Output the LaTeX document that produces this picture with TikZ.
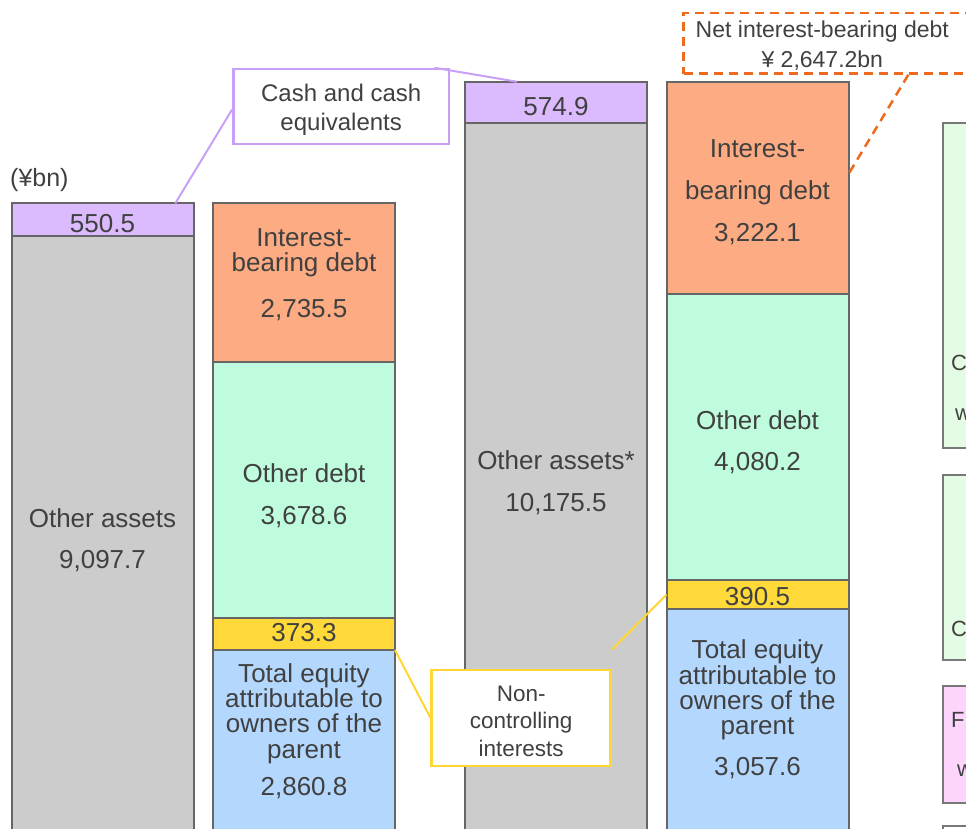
\documentclass[tikz,border=0pt]{standalone}
\usepackage{fontspec}
\setmainfont{Liberation Sans}
\usetikzlibrary{calc}

\begin{document}
\begin{tikzpicture}[x=1pt,y=1pt,yscale=-1,xscale=1,
    seg/.style={draw={rgb, 255:red, 102; green, 102; blue, 102 }, line width=2pt, minimum width=182pt, inner sep=0pt, outer sep=0pt, anchor=north west},
    cashseg/.style={fill={rgb, 255:red, 219; green, 186; blue, 253 }},
    assetseg/.style={fill={rgb, 255:red, 204; green, 204; blue, 204 }},
    debtseg/.style={fill={rgb, 255:red, 252; green, 171; blue, 130 }},
    othdebtseg/.style={fill={rgb, 255:red, 190; green, 252; blue, 221 }},
    nciseg/.style={fill={rgb, 255:red, 255; green, 217; blue, 58 }},
    equityseg/.style={fill={rgb, 255:red, 180; green, 215; blue, 254 }},
    bartext/.style={text={rgb, 255:red, 64; green, 64; blue, 64 }, font={\fontsize{26}{25.4}\selectfont}, align=center, inner sep=0pt, anchor=north},
    numtext/.style={text={rgb, 255:red, 64; green, 64; blue, 64 }, font={\fontsize{26}{25.4}\selectfont}, inner sep=0pt, anchor=base},
    callbox/.style={fill=white, line width=2.5pt, inner sep=0pt},
    calltext/.style={text={rgb, 255:red, 64; green, 64; blue, 64 }, align=center, inner sep=0pt, anchor=north},
    cashline/.style={draw={rgb, 255:red, 200; green, 160; blue, 248 }, line width=2pt},
    nciline/.style={draw={rgb, 255:red, 255; green, 214; blue, 51 }, line width=2pt},
    netline/.style={draw={rgb, 255:red, 238; green, 106; blue, 30 }, line width=2.5pt, dash pattern=on 9pt off 6pt},
    sidebox/.style={draw={rgb, 255:red, 120; green, 120; blue, 120 }, line width=1.5pt},
    sidetext/.style={text={rgb, 255:red, 64; green, 64; blue, 64 }, font={\fontsize{22}{26}\selectfont}, inner sep=0pt, anchor=base west}
  ]
  \clip (0,0) rectangle (966,829);

  %Shape: Rectangle -- assets, earlier year
  \node[seg, cashseg, minimum height=32.4pt] (cash1) at (11.5,203.3) {};
  \node[seg, assetseg, minimum height=620pt] (asset1) at (11.5,235.7) {};
  %Shape: Rectangle -- liabilities and equity, earlier year
  \node[seg, debtseg, minimum height=158.7pt] (debt2) at (213,203.3) {};
  \node[seg, othdebtseg, minimum height=256.3pt] (oth2) at (213,362) {};
  \node[seg, nciseg, minimum height=31.7pt] (nci2) at (213,618.3) {};
  \node[seg, equityseg, minimum height=220pt] (eq2) at (213,650) {};
  %Shape: Rectangle -- assets, later year
  \node[seg, cashseg, minimum height=41.6pt] (cash3) at (465,81.7) {};
  \node[seg, assetseg, minimum height=740pt] (asset3) at (465,123.3) {};
  %Shape: Rectangle -- liabilities and equity, later year
  \node[seg, debtseg, minimum height=212.3pt] (debt4) at (666.5,81.7) {};
  \node[seg, othdebtseg, minimum height=286pt] (oth4) at (666.5,294) {};
  \node[seg, nciseg, minimum height=29.3pt] (nci4) at (666.5,580) {};
  \node[seg, equityseg, minimum height=260pt] (eq4) at (666.5,609.3) {};

  %Shape: Rectangle -- boxes cut off at the right
  \draw[sidebox, fill={rgb, 255:red, 228; green, 252; blue, 228 }] (943,123) rectangle (1000,448);
  \draw[sidebox, fill={rgb, 255:red, 228; green, 252; blue, 228 }] (943,475) rectangle (1000,660);
  \draw[sidebox, fill={rgb, 255:red, 252; green, 212; blue, 252 }] (943,686) rectangle (1000,803);
  \draw[sidebox, fill=white] (943,826) rectangle (1000,900);

  % Text Node
  \node[numtext] (v-cash1) at (102.5,232.7) {550.5};
  \node[bartext] (t-asset1) at (102.5,508.3) {Other assets\\[15.6pt]9,097.7};
  % Text Node
  \node[bartext] (t-debt2) at (304,228.1) {Interest-\\bearing debt\\[20.2pt]2,735.5};
  \node[bartext] (t-oth2) at (304,463.1) {Other debt\\[16.6pt]3,678.6};
  \node[numtext] (v-nci2) at (304,641.7) {373.3};
  \node[bartext] (t-eq2) at (304,663.1) {Total equity\\attributable to\\owners of the\\parent\\[11.9pt]2,860.8};
  % Text Node
  \node[numtext] (v-cash3) at (556,115.7) {574.9};
  \node[bartext] (t-asset3) at (556,450.8) {Other assets*\\[16.3pt]10,175.5};
  % Text Node
  \node[bartext] (t-debt4) at (757.5,139.7) {Interest-\\[16.3pt]bearing debt\\[16.3pt]3,222.1};
  \node[bartext] (t-oth4) at (757.5,410.8) {Other debt\\[15.3pt]4,080.2};
  \node[numtext] (v-nci4) at (757.5,605) {390.5};
  \node[bartext] (t-eq4) at (757.5,639.7) {Total equity\\attributable to\\owners of the\\parent\\[15.6pt]3,057.6};

  % Text Node
  \node[sidetext] (s1) at (951,370) {C};
  \node[sidetext] (s2) at (955,420) {w};
  \node[sidetext] (s3) at (951,636) {C};
  \node[sidetext] (s4) at (951,727) {F};
  \node[sidetext] (s5) at (957,776) {w};

  % Text Node
  \node[text={rgb, 255:red, 64; green, 64; blue, 64 }, font={\fontsize{25}{28}\selectfont}, inner sep=0pt, anchor=base west] (unit) at (10,186) {(¥bn)};

  %Callouts
  \node[callbox, draw={rgb, 255:red, 200; green, 160; blue, 248 }, minimum width=215.7pt, minimum height=75pt] (cashbox) at (341.2,106.5) {};
  \node[calltext, font={\fontsize{24}{28.3}\selectfont}] (cashtext) at (341.2,84.3) {Cash and cash\\equivalents};
  \node[callbox, draw={rgb, 255:red, 255; green, 214; blue, 51 }, minimum width=179pt, minimum height=95.7pt] (ncibox) at (521.2,717.9) {};
  \node[calltext, font={\fontsize{22.5}{27.5}\selectfont}] (ncitext) at (521.2,685.6) {Non-\\controlling\\interests};
  \node[netline, fill=white, minimum width=340pt, minimum height=60.6pt, inner sep=0pt, anchor=north west] (netbox) at (682.3,11.7) {};
  \node[calltext, font={\fontsize{23}{30}\selectfont}] (nettext) at (822.3,21) {Net interest-bearing debt\\¥ 2,647.2bn};

  %Straight Lines
  \draw[cashline] ($(cash1.north west)!0.9!(cash1.north east)$) -- ([yshift=3pt]cashbox.west);
  \draw[cashline] ($(cashbox.north west)!0.927!(cashbox.north east)$) -- ($(cash3.north west)!0.285!(cash3.north east)$);
  %Straight Lines
  \draw[nciline] (nci2.south east) -- (ncibox.west);
  \draw[nciline] ([yshift=-19.3pt]ncibox.north east) -- (nci4.west);
  %Straight Lines
  \draw[netline] ($(netbox.south west)+(226,0)$) -- ($(debt4.north east)!0.435!(debt4.south east)$);

\end{tikzpicture}
\end{document}
